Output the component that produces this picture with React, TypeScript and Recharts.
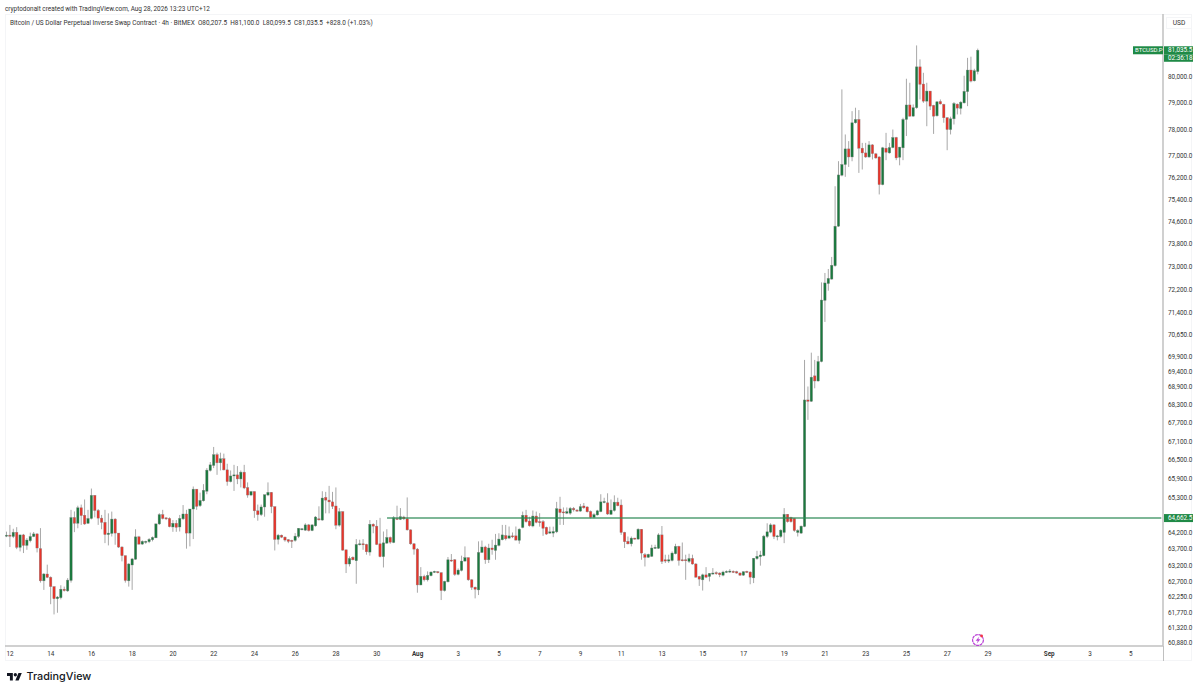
import { Bar, ComposedChart, ReferenceLine, XAxis, YAxis } from "recharts";

const FONT = "Roboto, 'Open Sans', sans-serif";
const GREEN_TAG = "#1f8a46";

// 4h candles, first one is the last bar of Jul 11
const opens = [
  64100, 64130, 64090, 64220, 63755, 64140, 63815, 63960, 64090, 64170,
  63715, 62735, 62940, 62840, 62560, 62195, 62225, 62480, 62430, 62745,
  64680, 64500, 64985, 64750, 64500, 64650, 65375, 64900, 64660, 64530,
  64150, 64185, 64630, 64195, 63765, 63500, 62735, 63215, 63390, 64080,
  63855, 63920, 63930, 63990, 64050, 64480, 64770, 64670, 64650, 64385,
  64500, 64385, 64640, 64790, 64195, 64945, 65570, 65050, 65205, 65505,
  66165, 66325, 66670, 66410, 66540, 66185, 65810, 65990, 66025, 65895,
  66110, 65620, 65385, 65495, 64890, 64770, 65010, 65385, 65470, 65020,
  64000, 64130, 64070, 63990, 63970, 63970, 64090, 64300, 64285, 64450,
  64275, 64420, 64640, 64600, 65310, 65225, 65170, 65040, 64440, 64865,
  63680, 63245, 63450, 63345, 63835, 63865, 63845, 63610, 64470, 64410,
  63865, 63470, 63885, 64060, 63905, 64650, 64620, 64695, 64640, 64295,
  63865, 63700, 62610, 62870, 62765, 62890, 62990, 63010, 62980, 62440,
  62705, 63365, 63375, 62930, 63050, 63335, 63440, 62765, 62540, 62460,
  63600, 63765, 63375, 63735, 63660, 63815, 63990, 64120, 64040, 64110,
  64110, 63970, 64370, 64750, 64570, 64415, 64725, 64550, 64550, 64375,
  64195, 64195, 64235, 64945, 64855, 64815, 64815, 64965, 64910, 64880,
  65040, 65010, 64865, 64685, 64760, 64865, 65150, 65140, 64780, 64900,
  65160, 65070, 64215, 63940, 63865, 64040, 64010, 64315, 63530, 63450,
  63480, 63725, 63725, 64140, 63375, 63335, 63355, 63560, 63785, 63375,
  63375, 63325, 63415, 63245, 62865, 62765, 62915, 62865, 62950, 62980,
  62970, 62905, 62990, 63000, 63020, 63010, 62970, 62905, 63020, 63000,
  62825, 63410, 63470, 63500, 64090, 64225, 64450, 64080, 64090, 64215,
  64780, 64680, 64650, 64215, 64195, 64400, 68455, 68410, 69255, 69085,
  69735, 71825, 72410, 72565, 73035, 74440, 76295, 76690, 77270, 76970,
  78250, 78375, 77295, 77120, 76970, 77420, 77085, 76970, 75950, 77295,
  77120, 77320, 77695, 76960, 77310, 78375, 78925, 78500, 78820, 80390,
  79725, 79070, 79455, 78905, 78515, 79055, 78945, 78440, 77995, 78400,
  78955, 78795, 79005, 79435, 80265, 79850, 80207.5,
];

const highs = [
  64240, 64450, 64330, 64380, 64140, 64170, 64040, 64210, 64230, 64190,
  64350, 62970, 63225, 62870, 62560, 62275, 62600, 62560, 62815, 64920,
  64870, 65050, 65085, 65245, 64920, 65590, 65375, 64945, 64760, 64920,
  64810, 64865, 64660, 64195, 63790, 63500, 63275, 63430, 64315, 64110,
  63970, 63960, 64040, 64090, 64500, 64815, 64920, 64685, 64685, 64600,
  64600, 64760, 65070, 64920, 64945, 65655, 65570, 65460, 65730, 66240,
  66435, 66920, 66735, 66735, 66705, 66380, 66165, 66345, 66305, 66165,
  66345, 65785, 65515, 65495, 65085, 65085, 65395, 65785, 65480, 65020,
  64170, 64150, 64090, 64010, 63990, 64195, 64345, 64350, 64500, 64480,
  64470, 64725, 65030, 65505, 65485, 65675, 65485, 65625, 64975, 64865,
  63680, 63480, 63480, 64010, 63990, 64010, 63865, 64600, 64500, 64600,
  64670, 64245, 64315, 64090, 64725, 65050, 64975, 64735, 65310, 64315,
  63885, 63735, 63150, 62920, 63020, 63020, 63040, 63030, 62990, 62735,
  63460, 63550, 63395, 63110, 63500, 63785, 63440, 62785, 62560, 63940,
  63965, 63805, 63865, 63990, 64170, 64190, 64450, 64450, 64400, 64215,
  64400, 64345, 64865, 64920, 64705, 64900, 64865, 64815, 64600, 64395,
  64395, 64395, 65170, 65330, 64995, 64995, 65010, 65010, 64945, 65105,
  65135, 65030, 64900, 64815, 64920, 65410, 65300, 65440, 65245, 65375,
  65300, 65245, 64235, 64090, 64090, 64050, 64345, 64315, 63580, 63560,
  63835, 63835, 64190, 64415, 63530, 63530, 63630, 63865, 63805, 63905,
  63530, 63560, 63530, 63275, 62885, 62950, 63150, 62970, 63120, 63020,
  62990, 63040, 63050, 63090, 63050, 63040, 62990, 63020, 63040, 63020,
  63430, 63650, 63650, 64140, 64500, 64500, 64470, 64140, 64315, 64975,
  64790, 64705, 64660, 64315, 64430, 69790, 68900, 70035, 69790, 69925,
  72450, 72780, 72920, 73345, 75890, 76813, 79520, 77810, 77560, 78690,
  78820, 78730, 77495, 77495, 77560, 77445, 77120, 76995, 77345, 77870,
  77495, 77995, 77720, 77345, 78440, 79930, 79775, 78945, 81225, 80680,
  80160, 79775, 79455, 78930, 79070, 79135, 78970, 78465, 78480, 79035,
  78980, 79070, 80045, 80740, 80785, 80315, 81100,
];

const lows = [
  64070, 63765, 64040, 63700, 63630, 63580, 63680, 63910, 64070, 63600,
  62680, 62460, 62815, 62030, 61725, 61775, 62175, 62410, 62400, 62680,
  64225, 64345, 64450, 64450, 64480, 64620, 64685, 64450, 64315, 63885,
  63815, 64090, 63835, 63735, 63325, 62680, 62560, 62460, 63375, 63835,
  63835, 63865, 63885, 63940, 64040, 64450, 64620, 64600, 64375, 64235,
  64235, 64245, 64600, 63715, 63785, 64010, 64920, 65010, 65180, 65410,
  66130, 66240, 66025, 66165, 66165, 65680, 65785, 65515, 65730, 65625,
  65570, 65300, 65350, 64670, 64580, 64725, 64705, 65350, 64815, 63660,
  63845, 64040, 63930, 63885, 63735, 63930, 64040, 64280, 64265, 64245,
  64255, 64395, 64580, 64580, 64810, 64810, 64945, 64315, 64395, 63650,
  62970, 63170, 63355, 62645, 63815, 63680, 63530, 63500, 64190, 63825,
  63450, 63140, 63865, 63865, 63885, 64600, 64600, 64600, 64275, 63835,
  63530, 62375, 62600, 62715, 62715, 62870, 62970, 62960, 62155, 62410,
  62685, 63310, 62885, 62900, 63020, 63315, 62735, 62460, 62205, 62305,
  63580, 63250, 63275, 63530, 63375, 63785, 63970, 63970, 64010, 64040,
  63960, 63865, 64345, 64520, 64395, 64375, 64500, 64395, 64110, 64140,
  64170, 64070, 64195, 64450, 64450, 64785, 64765, 64865, 64860, 64860,
  64950, 64835, 64650, 64650, 64740, 64845, 65125, 64760, 64760, 64865,
  65030, 64140, 63735, 63845, 63785, 63990, 63990, 63375, 63170, 63430,
  63460, 63705, 63705, 63245, 63275, 63275, 63325, 63540, 63195, 63325,
  62765, 63275, 63225, 62825, 62580, 62440, 62815, 62715, 62920, 62915,
  62845, 62870, 62970, 62970, 62970, 62950, 62885, 62885, 62970, 62630,
  62665, 63375, 63195, 63480, 64040, 64190, 64010, 63970, 64050, 63885,
  64520, 64520, 64235, 64090, 64170, 64380, 67800, 68390, 68840, 69060,
  69710, 71080, 72160, 72545, 73000, 74415, 76255, 76235, 76600, 76810,
  78220, 76380, 76505, 76935, 76935, 76875, 76900, 75590, 75925, 76850,
  77095, 77295, 76850, 76660, 76850, 77750, 78480, 78480, 78780, 79135,
  79005, 78120, 78730, 77830, 78480, 78945, 78250, 77220, 77810, 78185,
  78565, 78565, 78980, 78880, 79790, 79825, 80099.5,
];

const closes = [
  64130, 64100, 64220, 63755, 64140, 63815, 63980, 64090, 64170, 63735,
  62735, 62940, 62840, 62560, 62195, 62245, 62480, 62440, 62755, 64680,
  64500, 64985, 64740, 64480, 64650, 65375, 64900, 64660, 64530, 64150,
  64195, 64630, 64195, 63765, 63500, 62745, 63245, 63400, 64080, 63855,
  63940, 63940, 64000, 64060, 64480, 64770, 64650, 64640, 64395, 64500,
  64375, 64650, 64790, 64195, 64945, 65570, 65030, 65215, 65535, 66175,
  66345, 66670, 66410, 66540, 66185, 65810, 65990, 66025, 65895, 66110,
  65610, 65385, 65495, 64890, 64770, 65010, 65395, 65470, 65020, 64000,
  64130, 64070, 63980, 63940, 63950, 64100, 64345, 64330, 64450, 64275,
  64450, 64695, 64610, 65290, 65225, 65170, 65030, 64440, 64865, 63670,
  63245, 63415, 63375, 63845, 63865, 63835, 63620, 64470, 64410, 63845,
  63470, 63895, 64060, 63915, 64670, 64630, 64705, 64640, 64295, 63865,
  63700, 62610, 62870, 62765, 62900, 63000, 63020, 62980, 62440, 62715,
  63375, 63335, 62930, 63060, 63335, 63440, 62765, 62540, 62480, 63600,
  63765, 63375, 63735, 63685, 63825, 64010, 64140, 64020, 64110, 64090,
  63980, 64315, 64750, 64550, 64425, 64725, 64530, 64530, 64345, 64165,
  64235, 64245, 64955, 64835, 64835, 64865, 64965, 64920, 64880, 65020,
  64985, 64860, 64685, 64770, 64890, 65170, 65180, 64790, 64910, 65160,
  65050, 64215, 63930, 63865, 64040, 64010, 64315, 63580, 63450, 63540,
  63735, 63755, 64140, 63325, 63335, 63375, 63580, 63785, 63355, 63345,
  63345, 63415, 63245, 62845, 62785, 62915, 62845, 62960, 62970, 62950,
  62920, 63000, 63020, 63030, 62990, 62970, 62905, 63010, 62990, 62845,
  63420, 63480, 63520, 64100, 64235, 64450, 64090, 64110, 64285, 64780,
  64550, 64550, 64275, 64275, 64410, 68455, 68410, 69210, 69085, 69735,
  71835, 72430, 72590, 73050, 74440, 76305, 76690, 77270, 76970, 78250,
  78375, 77295, 77120, 76970, 77420, 77095, 76935, 75950, 77310, 77145,
  77320, 77695, 76935, 77335, 78375, 78925, 78500, 78820, 80390, 79715,
  79070, 79455, 78880, 78500, 79045, 78965, 78440, 77995, 78400, 78980,
  78805, 79030, 79445, 80265, 79840, 80240, 81035.5,
];

const priceTicks = [
  81035.5, 80000, 79000, 78000, 77000, 76200, 75400, 74600, 73800, 73000,
  72200, 71400, 70650, 69900, 69400, 68900, 68300, 67700, 67100, 66500,
  65900, 65300, 64662.5, 64200, 63700, 63200, 62700, 62250, 61770, 61320, 60880,
];
const LAST_PRICE = 81035.5;
const LEVEL_PRICE = 64662.5;
const LEVEL_START = 112;

// 341 bar slots fit the pane, the tail is empty future time
const SLOT_COUNT = 341;
const dateSlots = [1, 13, 25, 37, 49, 61, 73, 85, 97, 109, 121, 133, 145, 157, 169, 181, 193, 205, 217, 229, 241, 253, 265, 277, 289, 307, 319, 331];
const dateLabels = ["12", "14", "16", "18", "20", "22", "24", "26", "28", "30", "Aug", "3", "5", "7", "9", "11", "13", "15", "17", "19", "21", "23", "25", "27", "29", "Sep", "3", "5"];

const candles = Array.from({ length: SLOT_COUNT }, (_, slot) => ({
  slot,
  open: opens[slot],
  high: highs[slot],
  low: lows[slot],
  close: closes[slot],
}));

function Candle(props: any) {
  const { x, y, width, height, payload } = props;
  if (payload.open == null) return null;
  const { open, high, low, close } = payload;
  const cx = x + width / 2;
  // bar spans low..high on the log axis, place open/close inside it
  const span = Math.log(high / low);
  const at = (p: number) => y + (height * Math.log(high / p)) / span;
  const top = at(Math.max(open, close));
  const bottom = at(Math.min(open, close));
  const up = close >= open;
  return (
    <g>
      <line x1={cx} x2={cx} y1={y} y2={y + height} stroke="#a8a8a8" strokeWidth={1} />
      <rect
        x={cx - 1.2}
        y={top}
        width={2.4}
        height={Math.max(bottom - top, 1)}
        fill={up ? "#1a7a3e" : "#e8352b"}
        stroke="#777"
        strokeOpacity={0.65}
        strokeWidth={0.5}
      />
    </g>
  );
}

function formatPrice(v: number) {
  return v.toLocaleString("en-US", { minimumFractionDigits: 1, maximumFractionDigits: 1 });
}

function PriceTick(props: any) {
  const { y, payload } = props;
  const v = payload.value;
  const tagged = v === LAST_PRICE || v === LEVEL_PRICE;
  return (
    <g fontFamily={FONT} fontSize={6.35}>
      {tagged && <rect x={1164} y={y - 4} width={29} height={8} fill={GREEN_TAG} />}
      {v === LAST_PRICE && (
        <>
          <rect x={1133} y={y - 4} width={30} height={8} fill={GREEN_TAG} />
          <rect x={1164} y={y + 4} width={29} height={7.5} fill={GREEN_TAG} />
          <text x={1135} y={y + 2.2} fill="#fff" fontSize={6}>BTCUSD.P</text>
          <text x={1168} y={y + 9.9} fill="#fff">02:36:18</text>
        </>
      )}
      <text x={1168} y={y + 2.2} fill={tagged ? "#fff" : "#333"}>{formatPrice(v)}</text>
    </g>
  );
}

function DateTick(props: any) {
  const { x, payload } = props;
  const i = dateSlots.indexOf(payload.value);
  const label = dateLabels[i];
  const bold = label === "Aug" || label === "Sep";
  return (
    <text x={x} y={656.3} textAnchor="middle" fontFamily={FONT} fontSize={6.35} fontWeight={bold ? 700 : 400} fill="#333">
      {label}
    </text>
  );
}

export default function App() {
  return (
    <div style={{ position: "absolute", left: 0, top: 0, width: 1200, height: 693, background: "#fff", overflow: "hidden" }}>
      <div style={{ position: "absolute", left: 5, top: 14, width: 1187, height: 647, border: "1px solid #f4f5f7", boxSizing: "border-box" }} />
      <div style={{ position: "absolute", left: 1162.5, top: 646, width: 1.5, height: 15, background: "#c0c0c0" }} />
      <div style={{ position: "absolute", left: 1166, top: 17, width: 26, height: 12, border: "1px solid #f4f5f7", boxSizing: "border-box", font: `6.6px ${FONT}`, lineHeight: "11px", textAlign: "center", color: "#333" }}>
        USD
      </div>

      <ComposedChart
        width={1200}
        height={693}
        data={candles}
        margin={{ top: 14, right: 0, bottom: 32, left: 5 }}
        barCategoryGap={0}
        style={{ position: "absolute", left: 0, top: 0 }}
      >
        <XAxis
          dataKey="slot"
          height={15}
          ticks={dateSlots}
          interval={0}
          tick={<DateTick />}
          tickLine={false}
          axisLine={{ stroke: "#c0c0c0", strokeWidth: 1.5 }}
        />
        <YAxis
          orientation="right"
          width={37}
          scale="log"
          domain={[60792, 82466]}
          allowDataOverflow
          ticks={priceTicks}
          interval={0}
          tick={<PriceTick />}
          tickLine={false}
          axisLine={{ stroke: "#c0c0c0", strokeWidth: 1.5 }}
        />
        <ReferenceLine
          segment={[
            { x: LEVEL_START, y: LEVEL_PRICE },
            { x: SLOT_COUNT - 1, y: LEVEL_PRICE },
          ]}
          stroke="#2e8b57"
          strokeOpacity={0.62}
          strokeWidth={2}
        />
        <Bar dataKey={(d: any) => (d.open == null ? null : [d.low, d.high])} shape={<Candle />} isAnimationActive={false} />
      </ComposedChart>

      <div style={{ position: "absolute", left: 5, top: 4.5, font: `6.4px ${FONT}`, color: "#333", whiteSpace: "nowrap" }}>
        cryptodonalt created with TradingView.com, Aug 28, 2026 13:23 UTC+12
      </div>
      <div style={{ position: "absolute", left: 10, top: 18.5, font: `6.45px ${FONT}`, color: "#333", whiteSpace: "nowrap" }}>
        Bitcoin / US Dollar Perpetual Inverse Swap Contract · 4h · BitMEX&nbsp; O80,207.5&nbsp; H81,100.0&nbsp; L80,099.5&nbsp; C81,035.5&nbsp; +828.0 (+1.03%)
      </div>

      <svg style={{ position: "absolute", left: 970, top: 631.5 }} width={16} height={16}>
        <circle cx={8} cy={8} r={5.4} fill="#fff" stroke="#b93fd6" strokeWidth={1.2} strokeDasharray="3 0.6" />
        <path d="M9.4 4.4 L5.6 8.8 L7.8 8.8 L6.8 11.6 L10.4 7.2 L8.2 7.2 Z" fill="#b93fd6" />
        <circle cx={11.6} cy={4} r={1.4} fill="#f23645" />
      </svg>

      <svg style={{ position: "absolute", left: 6.5, top: 673 }} width={15} height={8} viewBox="0 0 36 19">
        <path d="M14 18H7V7H0V0h14v18zM28 18h-8l7.5-18h8L28 18z" fill="#131722" />
        <circle cx={20} cy={4} r={4} fill="#131722" />
      </svg>
      <div style={{ position: "absolute", left: 26.5, top: 670, font: `500 10.8px Inter, ${FONT}`, color: "#131722", whiteSpace: "nowrap" }}>
        TradingView
      </div>
    </div>
  );
}
